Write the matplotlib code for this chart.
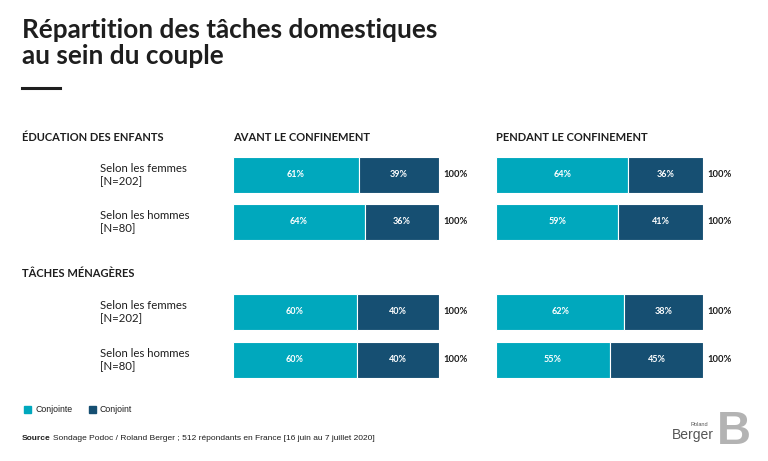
import matplotlib
matplotlib.use("Agg")
import matplotlib.pyplot as plt
from matplotlib.patches import Rectangle

# Data
sections = ["ÉDUCATION DES ENFANTS", "TÂCHES MÉNAGÈRES"]
periods = ["AVANT LE CONFINEMENT", "PENDANT LE CONFINEMENT"]
respondents = ["Selon les femmes\n[N=202]", "Selon les hommes\n[N=80]",
               "Selon les femmes\n[N=202]", "Selon les hommes\n[N=80]"]
conjointe_avant = [61, 64, 60, 60]
conjoint_avant = [39, 36, 40, 40]
conjointe_pendant = [64, 59, 62, 55]
conjoint_pendant = [36, 41, 38, 45]
series_names = ["Conjointe", "Conjoint"]

TEAL = "#00A8BD"
NAVY = "#164F72"
INK = "#1e1e1e"
W, H = 768, 461

# row centres in pixel space (layout)
row_y = [175, 222, 312, 360]
bar_h = 36

fig = plt.figure(figsize=(W / 100, H / 100), dpi=100)
fig.patch.set_facecolor("white")

def fx(px):
    return px / W

def fy(py):
    return 1 - py / H

title_font = ["Lato", "DejaVu Sans"]
body_font = ["Lato", "DejaVu Sans"]
narrow_font = ["Liberation Sans Narrow", "Liberation Sans", "DejaVu Sans"]

# Title
fig.text(fx(22), fy(18), "Répartition des tâches domestiques\nau sein du couple",
         ha="left", va="top", fontsize=18.8, fontweight="bold", color=INK,
         family=title_font, linespacing=1.12)
fig.add_artist(plt.Line2D([fx(22), fx(60)], [fy(88), fy(88)], color=INK, lw=2.2))

# Panels
panel_x = [(233, 439), (496, 703)]
panel_data = [(conjointe_avant, conjoint_avant), (conjointe_pendant, conjoint_pendant)]
y_top, y_bot = 150, 385

for (x0, x1), (a, b), period in zip(panel_x, panel_data, periods):
    ax = fig.add_axes([fx(x0), fy(y_bot), fx(x1 - x0), (y_bot - y_top) / H])
    ax.set_xlim(0, 100)
    ax.set_ylim(y_bot, y_top)
    ax.axis("off")
    ax.barh(row_y, a, height=bar_h, color=TEAL, edgecolor="white", linewidth=0.8)
    ax.barh(row_y, b, left=a, height=bar_h, color=NAVY, edgecolor="white", linewidth=0.8)
    for y, va_, vb in zip(row_y, a, b):
        ax.text(va_ / 2, y, f"{va_}%", ha="center", va="center", color="white",
                fontsize=6.5, fontweight="bold", family=body_font)
        ax.text(va_ + vb / 2, y, f"{vb}%", ha="center", va="center", color="white",
                fontsize=6.5, fontweight="bold", family=body_font)
        ax.text(102, y, f"{va_ + vb}%", ha="left", va="center", color=INK,
                fontsize=6.8, fontweight="bold", family=body_font, clip_on=False)
    fig.text(fx(x0), fy(137), period, ha="left", va="center", fontsize=8,
             fontweight="bold", color=INK, family=body_font)

# Section headers
fig.text(fx(22), fy(137), sections[0], ha="left", va="center", fontsize=8,
         fontweight="bold", color=INK, family=body_font)
fig.text(fx(22), fy(273), sections[1], ha="left", va="center", fontsize=8,
         fontweight="bold", color=INK, family=body_font)

# Row labels
for y, lab in zip(row_y, respondents):
    fig.text(fx(100), fy(y), lab, ha="left", va="center", fontsize=8.2,
             color=INK, family=body_font, linespacing=1.2)

# Legend
leg_x = [24, 89]
for x, name, c in zip(leg_x, series_names, [TEAL, NAVY]):
    fig.add_artist(Rectangle((fx(x), fy(412.5)), fx(6.5), 6.5 / H, color=c,
                             transform=fig.transFigure))
    fig.text(fx(x + 11), fy(409), name, ha="left", va="center", fontsize=6.3,
             color=INK, family=narrow_font)

# Source
src = fig.text(fx(22), fy(438), "Source", ha="left", va="center", fontsize=6,
               fontweight="bold", color=INK, family=narrow_font)
fig.canvas.draw()
bb = src.get_window_extent()
fig.text(bb.x1 / W + fx(2), fy(438),
         "Sondage Podoc / Roland Berger ; 512 répondants en France [16 juin au 7 juillet 2020]",
         ha="left", va="center", fontsize=6, color=INK, family=narrow_font)

# Logo
fig.text(fx(708), fy(424), "Roland", ha="right", va="center", fontsize=4,
         color="#555555", family=narrow_font)
fig.text(fx(714), fy(435), "Berger", ha="right", va="center", fontsize=10,
         color="#555555", family=narrow_font)
fig.text(fx(717), fy(432), "B", ha="left", va="center", fontsize=34,
         fontweight="bold", color="#b3b3b3", family=narrow_font)

fig.savefig("out.png", dpi=100, facecolor="white")
